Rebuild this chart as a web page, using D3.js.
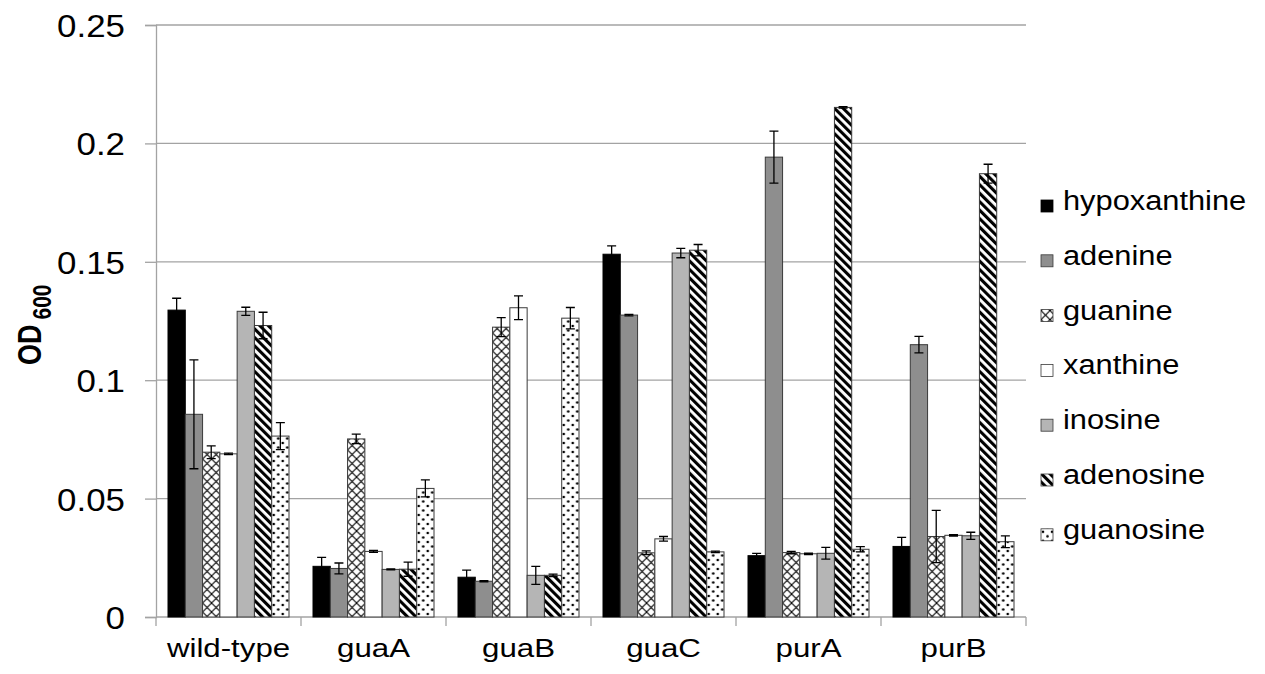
<!DOCTYPE html>
<html>
<head>
<meta charset="utf-8">
<script src="https://cdn.jsdelivr.net/npm/d3@7"></script>
<style>
  body { margin: 0; background: #fff; }
  svg { display: block; font-family: "Liberation Sans", Arial, sans-serif; }
</style>
</head>
<body>
<div class="bar-chart"></div>
<script>
// strains on the x axis, nutrient supplements as series
var strains = ["wild-type", "guaA", "guaB", "guaC", "purA", "purB"];
var nutrients = ["hypoxanthine", "adenine", "guanine", "xanthine", "inosine", "adenosine", "guanosine"];
var yTicks = [0, 0.05, 0.1, 0.15, 0.2, 0.25];

// mean OD600 per strain, one array per nutrient
var hypoxanthine = [0.1296, 0.0214, 0.0168, 0.1532, 0.0259, 0.0298];
var adenine      = [0.0856, 0.0205, 0.0151, 0.1275, 0.1942, 0.1150];
var guanine      = [0.0696, 0.0752, 0.1224, 0.0271, 0.0272, 0.0340];
var xanthine     = [0.0689, 0.0277, 0.1306, 0.0330, 0.0267, 0.0345];
var inosine      = [0.1291, 0.0201, 0.0176, 0.1537, 0.0269, 0.0343];
var adenosine    = [0.1231, 0.0202, 0.0176, 0.1549, 0.2152, 0.1872];
var guanosine    = [0.0764, 0.0543, 0.1262, 0.0275, 0.0286, 0.0318];

// error bar half-lengths
var hypoxanthineErr = [0.0050, 0.0038, 0.0030, 0.0035, 0.0010, 0.0038];
var adenineErr      = [0.0230, 0.0023, 0.0003, 0.0003, 0.0110, 0.0035];
var guanineErr      = [0.0027, 0.0020, 0.0040, 0.0008, 0.0005, 0.0110];
var xanthineErr     = [0.0003, 0.0004, 0.0050, 0.0010, 0.0003, 0.0003];
var inosineErr      = [0.0017, 0.0002, 0.0038, 0.0020, 0.0025, 0.0015];
var adenosineErr    = [0.0056, 0.0030, 0.0005, 0.0024, 0.0003, 0.0040];
var guanosineErr    = [0.0057, 0.0036, 0.0045, 0.0003, 0.0011, 0.0025];

var means = [hypoxanthine, adenine, guanine, xanthine, inosine, adenosine, guanosine];
var errs = [hypoxanthineErr, adenineErr, guanineErr, xanthineErr, inosineErr, adenosineErr, guanosineErr];

var fills = ["#000", "#8e8e8e", "url(#cross)", "#fff", "#b5b5b5", "url(#stripes)", "url(#dots)"];

var width = 1265, height = 674;
var plot = {left: 156, right: 1026, top: 25, bottom: 617};

var svg = d3.select(".bar-chart").append("svg")
    .attr("width", width)
    .attr("height", height);

// fill patterns
var defs = svg.append("defs");

var cross = defs.append("pattern").attr("id", "cross")
    .attr("patternUnits", "userSpaceOnUse").attr("width", 9).attr("height", 9);
cross.append("rect").attr("width", 9).attr("height", 9).attr("fill", "#fff");
cross.append("path").attr("d", "M0,0L9,9M9,0L0,9")
    .attr("stroke", "#000").attr("stroke-width", 1.1);

var stripes = defs.append("pattern").attr("id", "stripes")
    .attr("patternUnits", "userSpaceOnUse").attr("width", 6).attr("height", 6)
    .attr("patternTransform", "rotate(-45)");
stripes.append("rect").attr("width", 6).attr("height", 6).attr("fill", "#fff");
stripes.append("rect").attr("width", 3.1).attr("height", 6).attr("fill", "#000");

var dots = defs.append("pattern").attr("id", "dots")
    .attr("patternUnits", "userSpaceOnUse").attr("width", 9).attr("height", 9);
dots.append("rect").attr("width", 9).attr("height", 9).attr("fill", "#fff");
dots.append("circle").attr("cx", 2).attr("cy", 2).attr("r", 1.3).attr("fill", "#000");
dots.append("circle").attr("cx", 6.5).attr("cy", 6.5).attr("r", 1.3).attr("fill", "#000");

var x0 = d3.scaleBand().domain(strains).range([plot.left, plot.right]);
var x1 = d3.scaleBand().domain(nutrients).range([12, x0.bandwidth() - 12]);
var y = d3.scaleLinear().domain([0, 0.25]).range([plot.bottom, plot.top]);

// horizontal text stretch, the original picture is a bit wider than tall
function stretched(g, x, y, sx) {
    return g.append("text")
        .attr("transform", "translate(" + x + "," + y + ") scale(" + sx + ",1)");
}

// gridlines
svg.append("g").selectAll("line")
    .data(yTicks.slice(1))
    .enter().append("line")
    .attr("x1", plot.left).attr("x2", plot.right)
    .attr("y1", function(d) { return y(d); })
    .attr("y2", function(d) { return y(d); })
    .attr("stroke", "#a3a3a3").attr("stroke-width", 1.3);

// y axis
var yAxis = svg.append("g")
    .attr("transform", "translate(" + plot.left + ",0)")
    .call(d3.axisLeft(y).tickValues(yTicks).tickSize(11).tickFormat(d3.format("")));
yAxis.select(".domain").attr("stroke", "#a3a3a3").attr("stroke-width", 1.3);
yAxis.selectAll(".tick line").attr("stroke", "#a3a3a3").attr("stroke-width", 1.3);
yAxis.selectAll(".tick text").remove();
yAxis.selectAll(".tick").each(function(d) {
    stretched(d3.select(this), -31, 11.5, 1.09)
        .attr("text-anchor", "end")
        .attr("font-size", 32)
        .attr("fill", "#000")
        .text(d3.format("")(d));
});

// x axis: baseline and separator ticks
var xAxis = svg.append("g").attr("transform", "translate(0," + plot.bottom + ")");
xAxis.append("line")
    .attr("x1", plot.left).attr("x2", plot.right)
    .attr("stroke", "#a3a3a3").attr("stroke-width", 1.3);
xAxis.selectAll(".sep")
    .data(strains.concat(["end"]))
    .enter().append("line")
    .attr("class", "sep")
    .attr("x1", function(d, i) { return plot.left + i * x0.bandwidth(); })
    .attr("x2", function(d, i) { return plot.left + i * x0.bandwidth(); })
    .attr("y1", 0).attr("y2", 9)
    .attr("stroke", "#a3a3a3").attr("stroke-width", 1.3);
strains.forEach(function(s) {
    stretched(xAxis, x0(s) + x0.bandwidth() / 2, 40, 1.25)
        .attr("text-anchor", "middle")
        .attr("font-size", 25)
        .text(s);
});

// y axis title
var title = svg.append("text")
    .attr("transform", "translate(41,365) scale(1.2,1) rotate(-90)")
    .attr("font-weight", "bold")
    .attr("font-size", 27);
title.append("tspan").text("OD");
title.append("tspan").attr("font-size", 21).attr("dx", 5).attr("dy", 8).text("600");

// bars
var rows = [];
strains.forEach(function(s, i) {
    nutrients.forEach(function(n, j) {
        rows.push({strain: s, nutrient: n, k: j, value: means[j][i], err: errs[j][i]});
    });
});

var groups = svg.append("g").selectAll("g")
    .data(rows)
    .enter().append("g")
    .attr("transform", function(d) { return "translate(" + (x0(d.strain) + x1(d.nutrient)) + ",0)"; });

groups.append("rect")
    .attr("x", 0)
    .attr("width", x1.bandwidth())
    .attr("y", function(d) { return y(d.value); })
    .attr("height", function(d) { return y(0) - y(d.value); })
    .attr("fill", function(d) { return fills[d.k]; })
    .attr("stroke", function(d) { return d.k === 0 ? "#000" : "#3a3a3a"; })
    .attr("stroke-width", 1);

// error bars
var bw = x1.bandwidth();
groups.append("path")
    .attr("d", function(d) {
        var c = bw / 2, hi = y(d.value + d.err), lo = y(d.value - d.err);
        return "M" + c + "," + hi + "V" + lo +
            "M" + (c - 4.5) + "," + hi + "H" + (c + 4.5) +
            "M" + (c - 4.5) + "," + lo + "H" + (c + 4.5);
    })
    .attr("fill", "none")
    .attr("stroke", "#000")
    .attr("stroke-width", 1.3);

// legend
var legend = svg.append("g").attr("transform", "translate(1041,210)");
var item = legend.selectAll("g")
    .data(nutrients)
    .enter().append("g")
    .attr("transform", function(d, i) { return "translate(0," + i * 54.8 + ")"; });
item.append("rect")
    .attr("x", 0).attr("y", -10)
    .attr("width", 12).attr("height", 12)
    .attr("fill", function(d, i) { return fills[i]; })
    .attr("stroke", function(d, i) { return i === 0 ? "#000" : "#3a3a3a"; })
    .attr("stroke-width", 0.8);
item.each(function(d) {
    stretched(d3.select(this), 22, 0, 1.1)
        .attr("font-size", 28)
        .text(d);
});
</script>
</body>
</html>
